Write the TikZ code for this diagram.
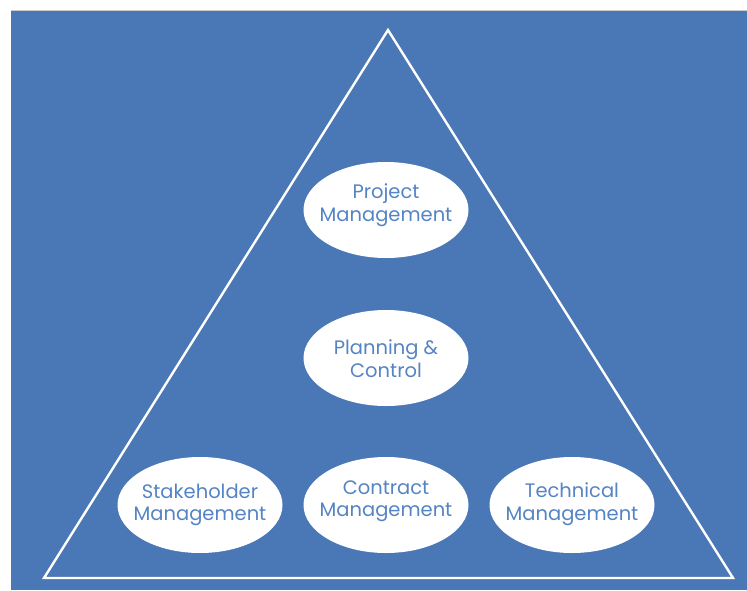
\documentclass[tikz,border=0pt]{standalone}
\usepackage{fontspec}
\setmainfont{Poppins}
\usetikzlibrary{shapes.geometric}
\definecolor{bgblue}{HTML}{4A77B5}
\definecolor{txtblue}{HTML}{5584C4}
\begin{document}
\begin{tikzpicture}[x=1pt,y=-1pt,
  topic/.style={ellipse,fill=white,draw=none,minimum width=165pt,minimum height=96pt,
    inner sep=0pt},
  topictext/.style={inner sep=0pt,align=center,text=txtblue,
    font=\fontsize{19.5}{22.5}\selectfont}]
  \useasboundingbox (0,0) rectangle (747,590);
  \fill[white] (0,0) rectangle (747,590);
  \fill[bgblue] (11,10) rectangle (747,590);
  \draw[gray!40,line width=0.8pt] (11,10.4) -- (747,10.4);
  % pyramid outline
  \coordinate (apex) at (388,30);
  \coordinate (bl) at (44,578);
  \coordinate (br) at (733,578);
  \draw[white,line width=2.4pt,line join=miter] (apex) -- (bl) -- (br) -- cycle;
  % topic ellipses
  \node[topic] (pm) at (386,210) {};
  \node[topic] (pc) at (386,358) {};
  \node[topic] (sm) at (200,505) {};
  \node[topic] (cm) at (386,505) {};
  \node[topic] (tm) at (572,505) {};
  % topic labels
  \node[topictext] (pmt) at ([yshift=5pt]pm.center) {Project\\Management};
  \node[topictext] (pct) at ([yshift=-0.5pt]pc.center) {Planning \&\\Control};
  \node[topictext] (smt) at ([yshift=0pt]sm.center) {Stakeholder\\Management};
  \node[topictext] (cmt) at ([yshift=4pt]cm.center) {Contract\\Management};
  \node[topictext] (tmt) at ([yshift=1pt]tm.center) {Technical\\Management};
\end{tikzpicture}
\end{document}
